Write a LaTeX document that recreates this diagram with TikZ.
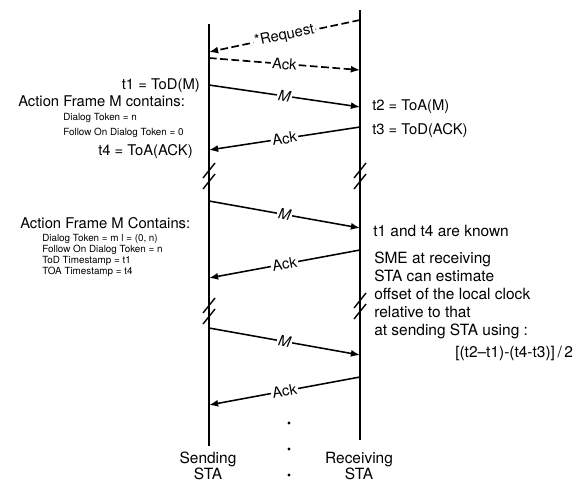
\documentclass[tikz,border=0pt]{standalone}
\usepackage{fontspec}
\setmainfont{TeX Gyre Heros}
\usetikzlibrary{arrows.meta}

\begin{document}
\begin{tikzpicture}[x=0.025cm, y=-0.025cm,
  life/.style={line width=1.3pt},
  msg/.style={-{Latex[length=6.5pt,width=5pt]}, line width=1.1pt},
  req/.style={msg, dash pattern=on 5.5pt off 2.5pt, line width=1.2pt},
  lbl/.style={midway, sloped, fill=white, inner sep=1pt, font=\fontsize{10.5}{12}\selectfont},
  txt/.style={inner sep=0pt, font=\fontsize{10.5}{12}\selectfont},
  note/.style={inner sep=0pt, align=left, font=\fontsize{11}{12.8}\selectfont},
  tinytxt/.style={inner sep=0pt, align=left, font=\fontsize{7}{10.6}\selectfont},
  brk/.style={line width=1pt},
]
\useasboundingbox (0,0) rectangle (579,482);

% Stations
\node[note, align=center, font=\fontsize{11}{11.4}\selectfont] (send) at (208,466) {Sending\\STA};
\node[note, align=center, font=\fontsize{11}{11.4}\selectfont] (recv) at (359,466) {Receiving\\STA};
\coordinate (sTop) at (209,24);
\coordinate (sBot) at (209,446);
\coordinate (rTop) at (360,10);
\coordinate (rBot) at (360,440);
\draw[life] (sTop) -- (sBot);
\draw[life] (rTop) -- (rBot);

% Points on the lifelines
\coordinate (s0) at (209,52);  \coordinate (r0) at (360,20);
\coordinate (s1) at (209,58);  \coordinate (r1) at (360,70);
\coordinate (s2) at (209,85);  \coordinate (r2) at (360,107);
\coordinate (s3) at (209,150); \coordinate (r3) at (360,127);
\coordinate (s4) at (209,201); \coordinate (r4) at (360,228);
\coordinate (s5) at (209,278); \coordinate (r5) at (360,250);
\coordinate (s6) at (209,328); \coordinate (r6) at (360,355);
\coordinate (s7) at (209,405); \coordinate (r7) at (360,377);

% Request / Ack
\draw[req] (r0) -- (s0) node[lbl] {*Request};
\draw[req] (s1) -- (r1) node[lbl] {Ack};

% First exchange
\draw[msg] (s2) -- (r2) node[lbl] {\itshape M};
\draw[msg] (r3) -- (s3) node[lbl] {Ack};
\node[txt, anchor=east] (t1) at (200,86) {t1 = ToD(M)};
\node[txt, anchor=west] (frame1) at (18,101) {Action Frame M contains:};
\node[tinytxt, anchor=west] (fields1) at (63,125.5) {Dialog Token = n\\Follow On Dialog Token = 0};
\node[txt, anchor=east] (t4) at (193,152) {t4 = ToA(ACK)};
\node[txt, anchor=west] (t2) at (372,107) {t2 = ToA(M)};
\node[txt, anchor=west] (t3) at (372,131) {t3 = ToD(ACK)};

% Breaks
\coordinate (sb1) at (209,176); \coordinate (rb1) at (360,176);
\coordinate (sb2) at (209,311); \coordinate (rb2) at (360,306);
\foreach \b in {sb1,rb1,sb2,rb2}{
  \draw[brk] (\b) ++(-6,2) -- ++(12,-15);
  \draw[brk] (\b) ++(-6,13) -- ++(12,-15);
}

% Second exchange
\draw[msg] (s4) -- (r4) node[lbl] {\itshape M};
\draw[msg] (r5) -- (s5) node[lbl] {Ack};
\node[txt, anchor=west] (frame2) at (20,223) {Action Frame M Contains:};
\node[tinytxt, anchor=west, font=\fontsize{7}{7.8}\selectfont] (fields2) at (42,255.5)
  {Dialog Token = m l = (0, n)\\Follow On Dialog Token = n\\ToD Timestamp = t1\\TOA Timestamp = t4};
\node[note, anchor=west] (known) at (373,231) {t1 and t4 are known};
\node[note, anchor=west] (sme) at (374,295) {SME at receiving\\STA can estimate\\offset of the local clock\\relative to that\\at sending STA using :};
\node[note, anchor=west] (offset) at (455,353) {[(t2–t1)-(t4-t3)]\,/\,2};

% Third exchange
\draw[msg] (s6) -- (r6) node[lbl] {\itshape M};
\draw[msg] (r7) -- (s7) node[lbl] {Ack};

% Continuation dots
\foreach \y [count=\i] in {423,449,475}
  \fill (289,\y) circle (1.6) coordinate (dot\i);
\end{tikzpicture}
\end{document}
